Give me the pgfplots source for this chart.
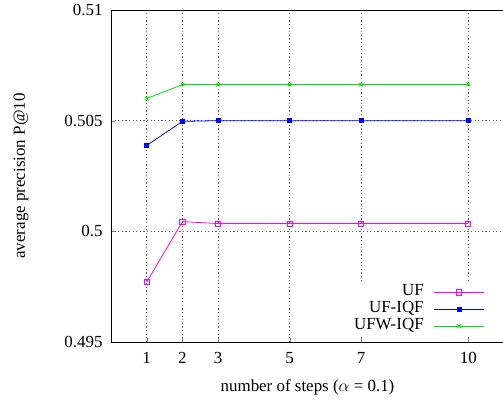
\documentclass[border=0pt]{standalone}
\usepackage{pgfplots}
\pgfplotsset{compat=1.18}
\usepackage{fontspec}
\setmainfont{Liberation Serif}

\definecolor{ufmag}{RGB}{255,0,255}
\definecolor{ufblue}{RGB}{0,0,255}
\definecolor{ufgreen}{RGB}{0,230,0}

\newcommand{\chartfont}{\fontsize{17}{17}\selectfont}

\begin{document}
\begin{tikzpicture}
\useasboundingbox (-111bp,-58bp) rectangle (392bp,342bp);
\begin{axis}[
    at={(0,0)}, anchor=south west,
    scale only axis,
    width=393bp, height=332bp,
    xmin=0, xmax=11,
    ymin=0.495, ymax=0.51,
    xtick={1,2,3,5,7,10},
    ytick={0.495,0.5,0.505,0.51},
    yticklabels={0.495,0.5,0.505,0.51},
    /pgf/number format/assume math mode=true,
    tick align=inside,
    major tick length=4bp,
    xtick pos=bottom, ytick pos=left,
    axis line style={line width=1pt},
    grid=major,
    grid style={black!65, line width=0.6pt, dash pattern=on 1.2bp off 2.4bp},
    tick label style={font=\chartfont},
    xticklabel style={yshift=-7bp},
    yticklabel style={xshift=-5bp},
    xlabel={number of steps ($\alpha$ = 0.1)},
    ylabel={average precision P@10},
    label style={font=\chartfont},
    xlabel style={at={(axis description cs:0.5,-0.1355)}, anchor=center},
    ylabel style={at={(axis description cs:-0.229,0.5)}, anchor=center},
    legend style={draw=none, fill=white, font=\chartfont,
        at={(axis description cs:0.961,0.018)}, anchor=south east,
        inner xsep=4bp, inner ysep=1bp, row sep=0pt, column sep=8bp,
        nodes={inner ysep=0pt, inner xsep=2bp, text height=12bp, text depth=5bp}},
    legend cell align=right,
    legend plot pos=right,
    legend image code/.code={
        \draw[mark repeat=2, mark phase=2, #1]
        plot coordinates {(0bp,0bp) (25bp,0bp) (50bp,0bp)};},
]
\addplot[ufmag, line width=0.8pt, mark=square, mark size=2.6bp,
    mark options={solid, line width=0.8pt}] coordinates {
(1,0.49771) (2,0.50044) (3,0.50035) (5,0.50035) (7,0.50035) (10,0.50035)
};
\addlegendentry{UF}
\addplot[ufblue, line width=0.8pt, mark=square*, mark size=2bp,
    mark options={solid}] coordinates {
(1,0.50388) (2,0.50497) (3,0.50500) (5,0.50500) (7,0.50500) (10,0.50500)
};
\addlegendentry{UF-IQF}
\addplot[ufgreen, line width=0.8pt, mark=x, mark size=2.6bp,
    mark options={solid, line width=0.8pt}] coordinates {
(1,0.50600) (2,0.50663) (3,0.50663) (5,0.50663) (7,0.50663) (10,0.50663)
};
\addlegendentry{UFW-IQF}
\end{axis}
\end{tikzpicture}
\end{document}
